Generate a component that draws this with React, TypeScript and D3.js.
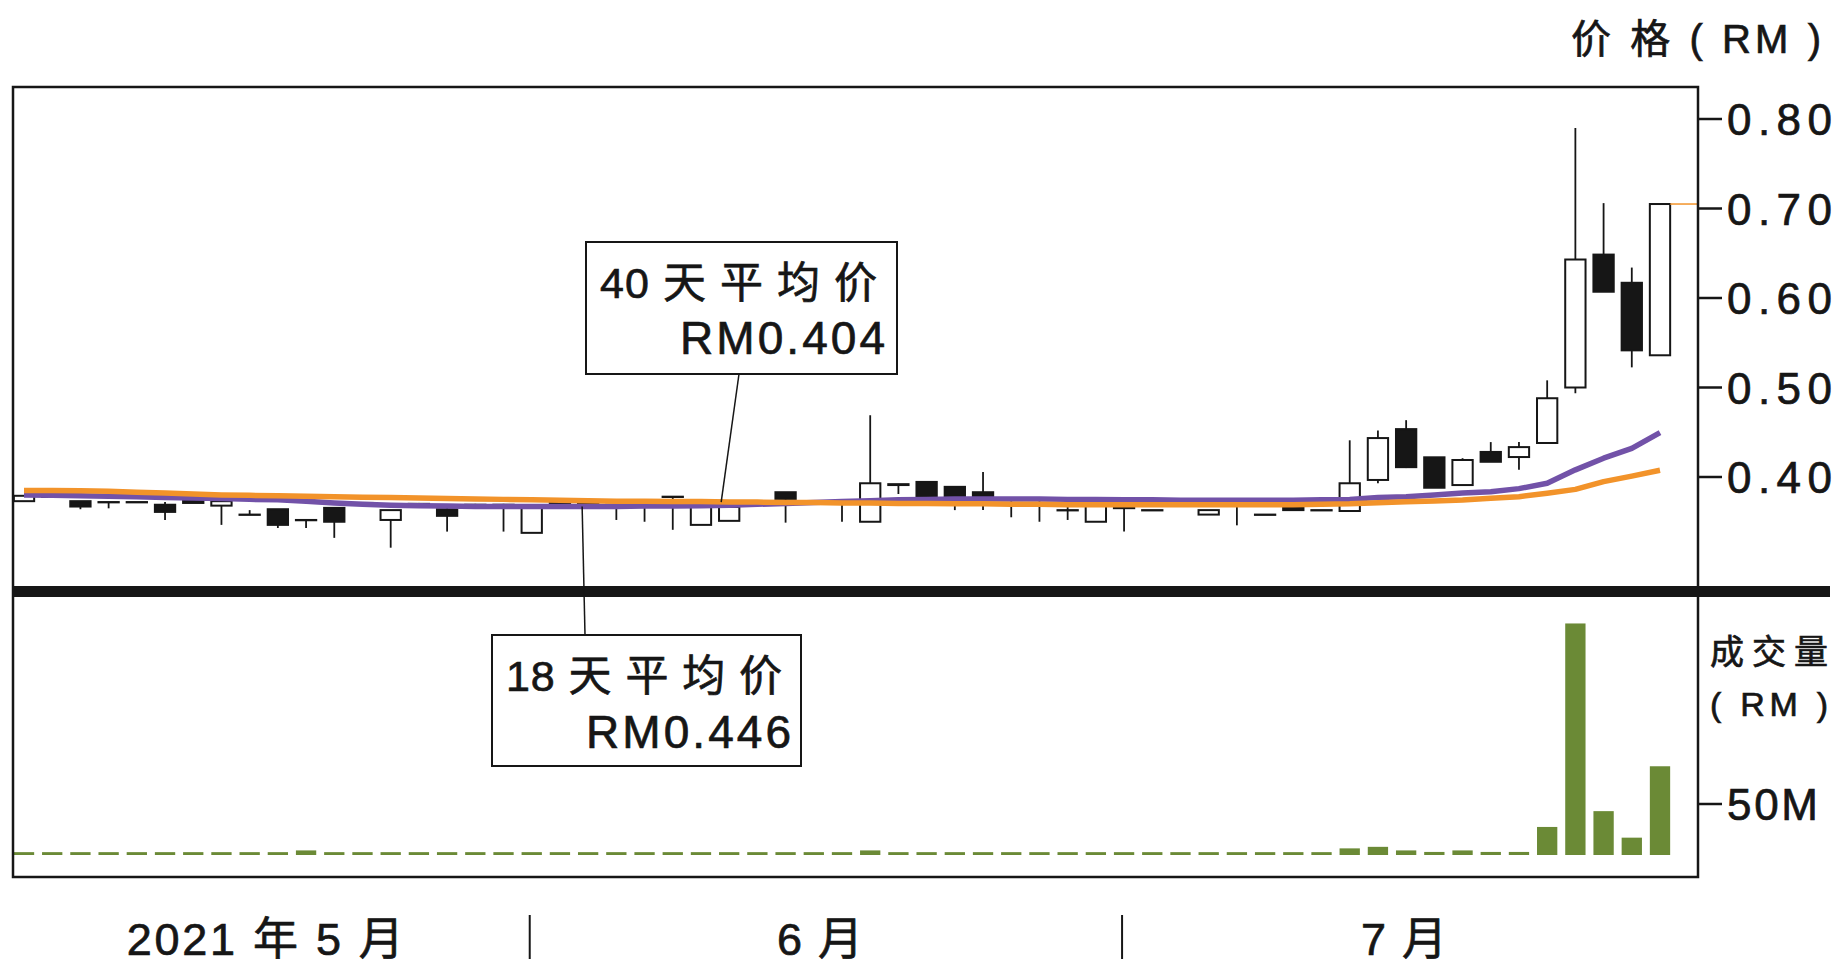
import React from 'react';
import * as d3 from 'd3';

// daily candles, 2021-05 .. 2021-07 (RM)
const opens = [
  0.373, 0.378, 0.373, 0.372, 0.372, 0.369, 0.3755, 0.368, 0.358, 0.364,
  0.352, 0.3655, 0.371, 0.352, 0.370, 0.364, 0.369, 0.369, 0.3376, 0.371,
  0.371, 0.369, 0.369, 0.378, 0.3465, 0.351, 0.372, 0.383, 0.372, 0.372,
  0.350, 0.392, 0.3945, 0.389, 0.383, 0.371, 0.371, 0.363, 0.350, 0.3655,
  0.363, 0.371, 0.358, 0.369, 0.358, 0.3666, 0.363, 0.362, 0.3967, 0.4535,
  0.422, 0.391, 0.428, 0.4223, 0.438, 0.500, 0.6485, 0.617, 0.536,
];
const highs = [
  0.379, 0.378, 0.373, 0.372, 0.372, 0.372, 0.3755, 0.373, 0.363, 0.364,
  0.352, 0.3655, 0.372, 0.363, 0.371, 0.366, 0.370, 0.370, 0.3666, 0.372,
  0.372, 0.370, 0.369, 0.378, 0.3666, 0.3666, 0.373, 0.383, 0.373, 0.373,
  0.469, 0.392, 0.3945, 0.389, 0.4056, 0.374, 0.374, 0.374, 0.371, 0.367,
  0.363, 0.372, 0.363, 0.369, 0.358, 0.3666, 0.363, 0.441, 0.452, 0.4635,
  0.422, 0.421, 0.439, 0.439, 0.508, 0.790, 0.706, 0.634, 0.705,
];
const lows = [
  0.373, 0.378, 0.364, 0.365, 0.372, 0.352, 0.371, 0.3465, 0.358, 0.343,
  0.343, 0.332, 0.370, 0.321, 0.369, 0.339, 0.368, 0.339, 0.3376, 0.370,
  0.370, 0.352, 0.350, 0.341, 0.3465, 0.351, 0.371, 0.349, 0.371, 0.350,
  0.350, 0.381, 0.372, 0.363, 0.363, 0.355, 0.350, 0.352, 0.350, 0.339,
  0.363, 0.370, 0.358, 0.346, 0.358, 0.363, 0.363, 0.362, 0.393, 0.410,
  0.388, 0.391, 0.417, 0.408, 0.438, 0.4936, 0.607, 0.5225, 0.536,
];
const closes = [
  0.379, 0.378, 0.367, 0.372, 0.372, 0.361, 0.371, 0.373, 0.358, 0.3465,
  0.352, 0.350, 0.371, 0.363, 0.370, 0.3566, 0.369, 0.369, 0.3666, 0.371,
  0.371, 0.369, 0.369, 0.378, 0.3666, 0.3666, 0.372, 0.3755, 0.372, 0.371,
  0.393, 0.391, 0.374, 0.3755, 0.3766, 0.370, 0.370, 0.363, 0.371, 0.3655,
  0.363, 0.371, 0.363, 0.369, 0.358, 0.363, 0.363, 0.393, 0.4435, 0.411,
  0.388, 0.419, 0.417, 0.4334, 0.488, 0.643, 0.607, 0.5415, 0.705,
];
// turnover, RM million
const volumes = [
  2.8, 2.8, 2.8, 2.8, 2.8, 2.8, 2.8, 2.8, 2.8, 2.8,
  4.5, 2.8, 2.8, 2.8, 2.8, 2.8, 2.8, 2.8, 2.8, 2.8,
  2.8, 2.8, 2.8, 2.8, 2.8, 2.8, 2.8, 2.8, 2.8, 2.8,
  4.5, 2.8, 2.8, 2.8, 2.8, 2.8, 2.8, 2.8, 2.8, 2.8,
  2.8, 2.8, 2.8, 2.8, 2.8, 2.8, 2.8, 6.5, 8, 4.5,
  3, 4.5, 3, 3, 27.5, 227, 43, 17, 87,
];
const ma18 = [
  0.380, 0.3795, 0.379, 0.3785, 0.378, 0.377, 0.3765, 0.376, 0.375, 0.3745,
  0.373, 0.371, 0.3695, 0.3685, 0.368, 0.3675, 0.367, 0.367, 0.367, 0.367,
  0.367, 0.367, 0.3675, 0.3675, 0.368, 0.3685, 0.3695, 0.3705, 0.3715, 0.3725,
  0.3735, 0.3745, 0.375, 0.3755, 0.3755, 0.3755, 0.3755, 0.375, 0.375, 0.3745,
  0.3745, 0.374, 0.374, 0.374, 0.374, 0.374, 0.3745, 0.375, 0.377, 0.378,
  0.380, 0.382, 0.3836, 0.387, 0.393, 0.408, 0.421, 0.432, 0.4495,
];
const ma40 = [
  0.385, 0.385, 0.3845, 0.384, 0.383, 0.382, 0.381, 0.380, 0.3795, 0.379,
  0.3785, 0.378, 0.3775, 0.377, 0.3765, 0.376, 0.3755, 0.375, 0.3745, 0.374,
  0.3735, 0.373, 0.373, 0.3725, 0.3725, 0.372, 0.372, 0.3715, 0.3715, 0.371,
  0.371, 0.3705, 0.3705, 0.370, 0.370, 0.3695, 0.3695, 0.369, 0.369, 0.369,
  0.369, 0.369, 0.369, 0.369, 0.369, 0.369, 0.3695, 0.370, 0.3713, 0.3724,
  0.3732, 0.3743, 0.3762, 0.378, 0.3818, 0.3862, 0.3948, 0.401, 0.4075,
];

const priceTicks = [0.4, 0.5, 0.6, 0.7, 0.8];
const volumeTicks = [50];
const monthLabels = ['2021 年 5 月', '6 月', '7 月'];
const monthStarts = [0, 18, 39];
const ma40Label = ['40 天 平 均 价', 'RM0.404'];
const ma18Label = ['18 天 平 均 价', 'RM0.446'];

const FONT = "'Liberation Sans', Arial, 'Noto Sans CJK SC', sans-serif";
const INK = '#161616';

export default function App() {
  const W = 1845;
  const H = 975;
  const left = 13;
  const right = 1698;
  const top = 87;
  const bottom = 877;
  const divY = 586;

  const idx = d3.range(opens.length);
  const x = d3
    .scaleBand<number>()
    .domain(idx)
    .range([9.9, 1674.1])
    .paddingInner(0.28)
    .paddingOuter(0.14);
  const bw = x.bandwidth();
  const cx = (i: number) => (x(i) as number) + bw / 2;

  const yP = d3.scaleLinear().domain([0.4, 0.8]).range([477, 119]);
  const yV = d3.scaleLinear().domain([0, 50]).range([855, 804]);

  const line = d3
    .line<number>()
    .x((_, i) => cx(i))
    .y((v) => yP(v));

  const n = opens.length;
  // month separators sit between trading days
  const seps = monthStarts.slice(1).map((m) => cx(m) - 2);
  const bounds = [left, ...seps, right];
  const textStroke = { stroke: INK, strokeWidth: 0.7 };

  return (
    <div style={{ position: 'absolute', left: 0, top: 0 }}>
      <svg width={W} height={H} style={{ display: 'block', background: '#fff' }} fontFamily={FONT}>
        <defs>
          <clipPath id="pricePanel">
            <rect x={left} y={top} width={right - left} height={divY - top} />
          </clipPath>
        </defs>

        {/* candles */}
        <g clipPath="url(#pricePanel)">
          {idx.map((i) => {
            const o = opens[i];
            const c = closes[i];
            const up = c >= o;
            const y1 = yP(Math.max(o, c));
            const y2 = yP(Math.min(o, c));
            return (
              <g key={i}>
                <line x1={cx(i)} x2={cx(i)} y1={yP(highs[i])} y2={yP(lows[i])} stroke={INK} strokeWidth={1.8} />
                <rect
                  x={x(i)}
                  y={y1}
                  width={bw}
                  height={Math.max(y2 - y1, 0.3)}
                  fill={up ? '#fff' : INK}
                  stroke={INK}
                  strokeWidth={2}
                />
              </g>
            );
          })}
          <path d={line(ma18) || ''} fill="none" stroke="#7252a8" strokeWidth={5.5} strokeLinejoin="round" />
          <path d={line(ma40) || ''} fill="none" stroke="#f2932a" strokeWidth={5.5} strokeLinejoin="round" />
          <line
            x1={(x(n - 1) as number) + bw}
            x2={right}
            y1={yP(closes[n - 1])}
            y2={yP(closes[n - 1])}
            stroke="#f2932a"
            strokeWidth={1.5}
          />
        </g>

        {/* volume */}
        {idx.map((i) => (
          <rect key={i} x={x(i)} y={yV(volumes[i])} width={bw} height={yV(0) - yV(volumes[i])} fill="#6b8a36" />
        ))}

        {/* frame */}
        <rect x={left} y={top} width={right - left} height={bottom - top} fill="none" stroke={INK} strokeWidth={2.5} />
        <rect x={left} y={divY} width={1830 - left} height={11} fill={INK} />

        {/* price axis */}
        {priceTicks.map((t) => (
          <g key={t}>
            <line x1={right} x2={1722} y1={yP(t)} y2={yP(t)} stroke={INK} strokeWidth={2.5} />
            <text x={1727} y={yP(t) + 16} fontSize={44} textLength={105} lengthAdjust="spacing" fill={INK} {...textStroke}>
              {t.toFixed(2)}
            </text>
          </g>
        ))}
        <text x={1571} y={53} fontSize={40} textLength={250} lengthAdjust="spacing" fill={INK} {...textStroke}>
          价 格 ( RM )
        </text>

        {/* volume axis */}
        {volumeTicks.map((t) => (
          <g key={t}>
            <line x1={right} x2={1722} y1={yV(t)} y2={yV(t)} stroke={INK} strokeWidth={2.5} />
            <text x={1727} y={yV(t) + 16} fontSize={44} textLength={91} lengthAdjust="spacing" fill={INK} {...textStroke}>
              {t}M
            </text>
          </g>
        ))}
        <text x={1710} y={664} fontSize={34} textLength={118} lengthAdjust="spacing" fill={INK} {...textStroke}>
          成 交 量
        </text>
        <text x={1710} y={716} fontSize={34} textLength={118} lengthAdjust="spacing" fill={INK} {...textStroke}>
          ( RM )
        </text>

        {/* months */}
        {monthLabels.map((m, k) => (
          <text
            key={m}
            x={(bounds[k] + bounds[k + 1]) / 2 - 6}
            y={955}
            fontSize={45}
            textAnchor="middle"
            textLength={k === 0 ? 277 : 86}
            lengthAdjust="spacing"
            fill={INK}
            {...textStroke}
          >
            {m}
          </text>
        ))}
        {seps.map((s) => (
          <line key={s} x1={s} x2={s} y1={915} y2={959} stroke={INK} strokeWidth={2} />
        ))}

        {/* 40-day callout */}
        <line x1={739} y1={374} x2={cx(25) - 8} y2={yP(ma40[25])} stroke={INK} strokeWidth={1.5} />
        <rect x={586} y={242} width={311} height={132} fill="#fff" stroke={INK} strokeWidth={2} />
        <text x={600} y={298} fontSize={43} textLength={277} lengthAdjust="spacing" fill={INK} {...textStroke}>
          {ma40Label[0]}
        </text>
        <text x={680} y={354} fontSize={46} textLength={205} lengthAdjust="spacing" fill={INK} {...textStroke}>
          {ma40Label[1]}
        </text>

        {/* 18-day callout */}
        <line x1={585} y1={635} x2={cx(20) - 6} y2={yP(ma18[20])} stroke={INK} strokeWidth={1.5} />
        <rect x={492} y={635} width={309} height={131} fill="#fff" stroke={INK} strokeWidth={2} />
        <text x={506} y={691} fontSize={43} textLength={276} lengthAdjust="spacing" fill={INK} {...textStroke}>
          {ma18Label[0]}
        </text>
        <text x={586} y={748} fontSize={46} textLength={205} lengthAdjust="spacing" fill={INK} {...textStroke}>
          {ma18Label[1]}
        </text>
      </svg>
    </div>
  );
}
